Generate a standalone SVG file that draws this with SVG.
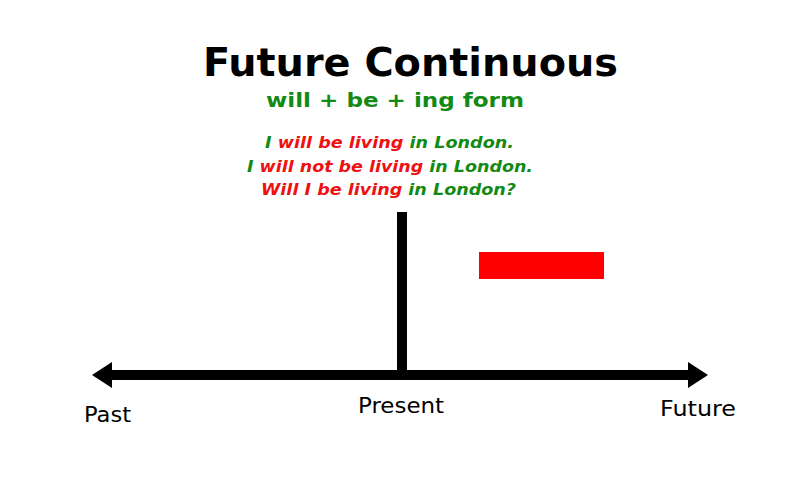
<svg xmlns="http://www.w3.org/2000/svg" width="800" height="500" viewBox="0 0 800 500">
<style>
text{font-family:"DejaVu Sans","Verdana",sans-serif}
.t{font-weight:bold;font-size:39px;fill:#000}
.s{font-weight:bold;font-size:20px;fill:#138a13}
.e{font-weight:bold;font-style:italic;font-size:15px}
.g{fill:#138a13}.r{fill:#ee1111}
.l{font-size:21px;fill:#000}
</style>
<rect width="800" height="500" fill="#fff"/>
<g id="title"><text class="t" x="203" y="76" textLength="415" lengthAdjust="spacingAndGlyphs">Future Continuous</text></g>
<g id="formula"><text class="s" x="266" y="107" textLength="258" lengthAdjust="spacingAndGlyphs">will + be + ing form</text></g>
<g id="examples">
<text class="e" x="265" y="148" textLength="249" lengthAdjust="spacingAndGlyphs"><tspan class="g">I </tspan><tspan class="r">will be living </tspan><tspan class="g">in London.</tspan></text>
<text class="e" x="247" y="172" textLength="286" lengthAdjust="spacingAndGlyphs"><tspan class="g">I </tspan><tspan class="r">will not be living </tspan><tspan class="g">in London.</tspan></text>
<text class="e" x="261" y="195" textLength="255" lengthAdjust="spacingAndGlyphs"><tspan class="r">Will I be living </tspan><tspan class="g">in London?</tspan></text>
</g>
<g id="connectors">
<rect x="397" y="212" width="10" height="165" fill="#000"/>
<rect x="108" y="370" width="584" height="10" fill="#000"/>
<polygon points="92,375 112,362 112,388" fill="#000"/>
<polygon points="708,375 688,362 688,388" fill="#000"/>
</g>
<g id="action"><rect x="479" y="252" width="125" height="27" fill="#ff0000"/></g>
<g id="past"><text class="l" x="84" y="422" textLength="47" lengthAdjust="spacingAndGlyphs">Past</text></g>
<g id="present"><text class="l" x="358" y="413" textLength="86" lengthAdjust="spacingAndGlyphs">Present</text></g>
<g id="future"><text class="l" x="660" y="416" textLength="76" lengthAdjust="spacingAndGlyphs">Future</text></g>
</svg>
